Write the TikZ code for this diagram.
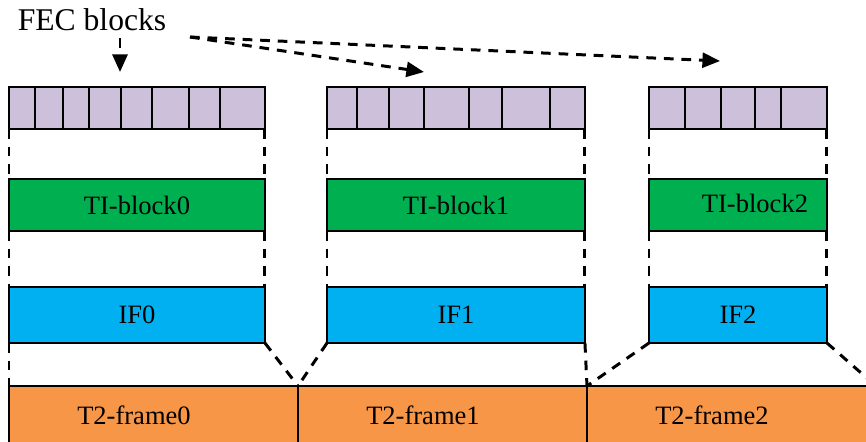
\documentclass[tikz,border=0pt]{standalone}
\usepackage{fontspec}
\setmainfont{Liberation Serif}
\usetikzlibrary{arrows.meta, calc}

\definecolor{fecpurple}{RGB}{204,192,218}
\definecolor{tigreen}{RGB}{0,176,80}
\definecolor{ifblue}{RGB}{0,176,240}
\definecolor{frameorange}{RGB}{247,150,70}

\begin{document}
\begin{tikzpicture}[x=0.02cm, y=-0.02cm,
  every node/.style={font=\fontsize{15.1}{18}\selectfont, inner sep=0pt, outer sep=0pt},
  boxline/.style={draw=black, line width=1.1pt},
  fecrow/.style={boxline, fill=fecpurple, anchor=north west, minimum height=0.84cm},
  tibox/.style={boxline, fill=tigreen, anchor=north west, minimum height=1.04cm},
  ifbox/.style={boxline, fill=ifblue, anchor=north west, minimum height=1.12cm},
  framebox/.style={boxline, fill=frameorange, anchor=north west, minimum width=5.78cm, minimum height=1.3cm},
  guide/.style={line width=1.7pt, dash pattern=on 5.5pt off 4.5pt},
  pointer/.style={line width=1.7pt, dash pattern=on 5.5pt off 4.5pt, -{Triangle[length=10pt, width=8.5pt]}}]
  \useasboundingbox (0, 0) rectangle (866, 441);
  % T2 frames at the bottom, drawn first
  \node [framebox, label={[xshift=-0.39cm, yshift=0.06cm]center:T2-frame0}] (fr0) at (9, 386) {};
  \node [framebox, label={[xshift=-0.39cm, yshift=0.06cm]center:T2-frame1}] (fr1) at (298, 386) {};
  \node [framebox, label={[xshift=-0.39cm, yshift=0.06cm]center:T2-frame2}] (fr2) at (587, 386) {};
  % FEC block rows
  \node [fecrow, minimum width=5.12cm] (fec0) at (9, 87) {};
  \node [fecrow, minimum width=5.16cm] (fec1) at (327, 87) {};
  \node [fecrow, minimum width=3.56cm] (fec2) at (649, 87) {};
  \foreach \x in {35, 63, 89, 121, 152, 189, 220, 357, 389, 424, 469, 502, 550, 685, 721, 755, 781}
    \draw [boxline] (\x, 87) -- (\x, 129);
  % TI blocks
  \node [tibox, minimum width=5.12cm] (ti0) at (9, 179) {TI-block0};
  \node [tibox, minimum width=5.16cm] (ti1) at (327, 179) {TI-block1};
  \node [tibox, minimum width=3.56cm, label={[xshift=0.34cm, yshift=0.04cm]center:TI-block2}] (ti2) at (649, 179) {};
  % interleaving frames
  \node [ifbox, minimum width=5.12cm] (if0) at (9, 287) {IF0};
  \node [ifbox, minimum width=5.16cm] (if1) at (327, 287) {IF1};
  \node [ifbox, minimum width=3.56cm] (if2) at (649, 287) {IF2};
  % dashed guides between rows
  \foreach \i in {0, 1, 2} {
    \draw [guide] (fec\i.south west) -- (ti\i.north west);
    \draw [guide] (fec\i.south east) -- (ti\i.north east);
    \draw [guide] (ti\i.south west) -- (if\i.north west);
    \draw [guide] (ti\i.south east) -- (if\i.north east);
  }
  \draw [guide] (if0.south west) -- (fr0.north west);
  \draw [guide] (if0.south east) -- (fr1.north west);
  \draw [guide] (if1.south west) -- (fr1.north west);
  \draw [guide] (if1.south east) -- (fr2.north west);
  \draw [guide] (if2.south west) -- (fr2.north west);
  \draw [guide] (if2.south east) -- (fr2.north east);
  % label and pointers
  \node [font=\fontsize{18}{21}\selectfont] (fectext) at (92, 20) {FEC blocks};
  \coordinate (src) at (190, 37);
  \coordinate (tip0) at (120, 72);
  \coordinate (tip1) at (424, 72);
  \coordinate (tip2) at (720, 61);
  \draw [pointer] (120, 38) -- (tip0);
  \draw [pointer] (src) -- (tip1);
  \draw [pointer] (src) -- (tip2);
\end{tikzpicture}
\end{document}
